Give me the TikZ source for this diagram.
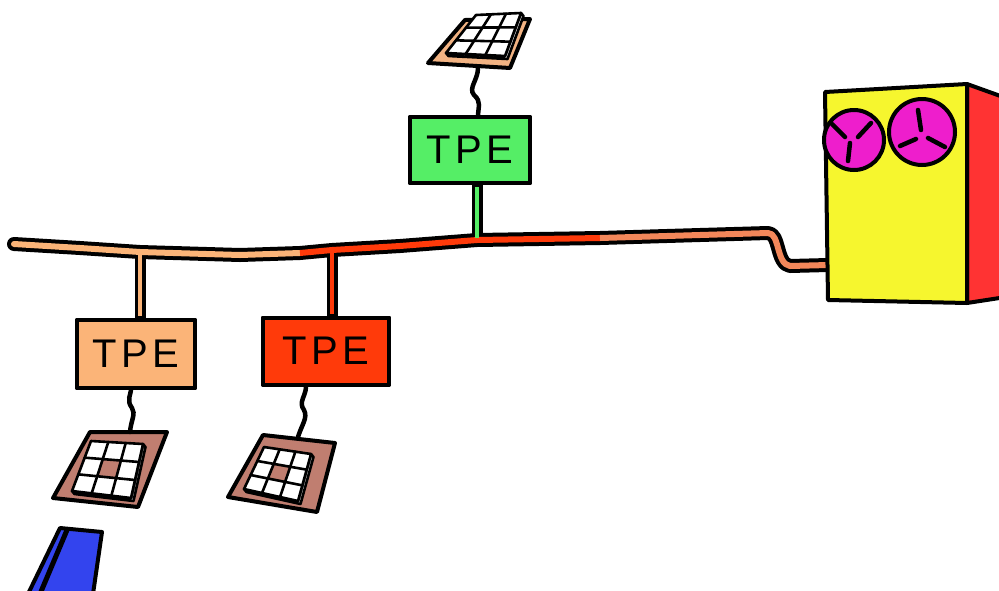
\documentclass[tikz,border=0pt]{standalone}
\usepackage{fontspec}
\setmainfont{Liberation Sans}
\newfontfamily\tpefont[LetterSpace=12]{Liberation Sans}
\usetikzlibrary{calc}
\definecolor{tpegreen}{HTML}{55EE66}
\definecolor{tpeorange}{HTML}{FBB478}
\definecolor{tpered}{HTML}{FF3A0A}
\definecolor{cablesalmon}{HTML}{F3875A}
\definecolor{padpeach}{HTML}{F2B383}
\definecolor{padbrown}{HTML}{C07E70}
\definecolor{cardblue}{HTML}{3344EE}
\definecolor{cabyellow}{HTML}{F6F62E}
\definecolor{cabred}{HTML}{FF3333}
\definecolor{reel}{HTML}{EE1ECC}

% key grid on the four corners gA (bottom-left), gB (top-left), gC (top-right), gD (bottom-right)
\newcommand{\padgrid}[1]{%
  \filldraw[white, keyline] ($(gA)+(2.5,3)$) -- ($(gD)+(2.5,3)$) -- ($(gC)+(2.5,3)$) -- (gC) -- (gD) -- (gA) -- cycle;
  \fill[white] (gA) -- (gB) -- (gC) -- (gD) -- cycle;
  \fill[#1] ($($(gA)!0.333!(gD)$)!0.333!($(gB)!0.333!(gC)$)$) --
            ($($(gA)!0.333!(gD)$)!0.667!($(gB)!0.333!(gC)$)$) --
            ($($(gA)!0.667!(gD)$)!0.667!($(gB)!0.667!(gC)$)$) --
            ($($(gA)!0.667!(gD)$)!0.333!($(gB)!0.667!(gC)$)$) -- cycle;
  \foreach \t in {0.333,0.667} {
    \draw[keyline] ($(gA)!\t!(gD)$) -- ($(gB)!\t!(gC)$);
    \draw[keyline] ($(gA)!\t!(gB)$) -- ($(gD)!\t!(gC)$);
  }
  \draw[keyline] (gA) -- (gB) -- (gC) -- (gD) -- cycle;
}

\begin{document}
\begin{tikzpicture}[x=1pt, y=-1pt,
  ink/.style={line width=4pt, line join=round, line cap=round, draw=black},
  keyline/.style={line width=2.6pt, line join=round, line cap=round, draw=black},
  tpebox/.style={draw=black, line width=4pt, line join=round, minimum width=120pt,
    minimum height=66pt, inner sep=0pt, font=\tpefont\fontsize{40}{44}\selectfont},
  cableout/.style={line width=14pt, draw=black, line join=round, line cap=round},
  cablein/.style={line width=6pt, line join=round},
  stemout/.style={line width=11pt, draw=black, line cap=butt},
  stemin/.style={line width=4.5pt},
  wire/.style={line width=4.5pt, line cap=round},
  spoke/.style={line width=4.5pt, line cap=round}]
\useasboundingbox (0,0) rectangle (999,590);

% ---------- bus cable ----------
\coordinate (b0) at (14,244);
\coordinate (b1) at (80,248);
\coordinate (j1) at (140,252);
\coordinate (b2) at (240,255);
\coordinate (b3) at (300,253);
\coordinate (j2) at (332,250);
\coordinate (b4) at (400,246);
\coordinate (j3) at (477,240);
\coordinate (b5) at (600,238);
\coordinate (b6) at (700,235);
\coordinate (b7) at (768,233);
\coordinate (b8) at (790,266);
\coordinate (b9) at (828,265);

% ---------- terminals ----------
\node[tpebox, fill=tpegreen]  (tpeA) at (470,150) {TPE};
\node[tpebox, fill=tpeorange, minimum width=118pt, minimum height=68pt] (tpeB) at (136,354) {TPE};
\node[tpebox, fill=tpered, minimum width=126pt, minimum height=67pt]   (tpeC) at (326,351) {TPE};

% stems from the bus to the terminals
\draw[stemout] (j1) -- (tpeB.north -| j1);
\draw[stemout] (j2) -- (tpeC.north -| j2);
\draw[stemout] (j3) -- (tpeA.south -| j3);

\draw[cableout] (b0) -- (b1) -- (j1) -- (b2) -- (b3) -- (j2) -- (b4) -- (j3) -- (b5) -- (b6) -- (b7)
  .. controls (780,233) and (776,264) .. (b8) -- (b9);
\draw[cablein, tpeorange, line cap=round] (b0) -- (b1) -- (j1) -- (b2) -- (b3);
\draw[cablein, tpered] (b3) -- (j2) -- (b4) -- (j3) -- (b5);
\draw[cablein, cablesalmon] (b5) -- (b6) -- (b7)
  .. controls (780,233) and (776,264) .. (b8) -- (b9);

\draw[stemin, tpeorange] ($(j1)+(0,2)$) -- ($(tpeB.north -| j1)+(0,-2)$);
\draw[stemin, tpered] ($(j2)+(0,2)$) -- ($(tpeC.north -| j2)+(0,-2)$);
\draw[stemin, tpegreen] ($(j3)+(0,-2)$) -- ($(tpeA.south -| j3)+(0,2)$);

% boxes drawn again above the stems
\node[tpebox, fill=tpegreen]  at (tpeA) {TPE};
\node[tpebox, fill=tpeorange, minimum width=118pt, minimum height=68pt] at (tpeB) {TPE};
\node[tpebox, fill=tpered, minimum width=126pt, minimum height=67pt] at (tpeC) {TPE};

% ---------- keypads ----------
% top keypad
\filldraw[ink, fill=padpeach] (428,63) -- (465,20) -- (530,19) -- (510,68) -- cycle;
\coordinate (gA) at (446,53); \coordinate (gB) at (476,15);
\coordinate (gC) at (521,13); \coordinate (gD) at (505,56);
\padgrid{white}
\coordinate (pA) at (478,68);
\draw[wire] (pA) .. controls (478,80) and (468,88) .. (474,95)
  .. controls (482,102) and (478,108) .. (tpeA.north -| 478,0);

% left keypad
\filldraw[ink, fill=padbrown] (53,498) -- (90,432) -- (167,432) -- (138,507) -- cycle;
\coordinate (gA) at (72,491); \coordinate (gB) at (91,441);
\coordinate (gC) at (143,444); \coordinate (gD) at (131,498);
\padgrid{padbrown}
\coordinate (pB) at (130,432);
\draw[wire] (pB) .. controls (131,420) and (136,414) .. (132,408)
  .. controls (126,400) and (131,394) .. (tpeB.south -| 131,0);

% middle keypad
\filldraw[ink, fill=padbrown] (228,497) -- (263,435) -- (335,443) -- (317,512) -- cycle;
\coordinate (gA) at (244,489); \coordinate (gB) at (264,447);
\coordinate (gC) at (311,454); \coordinate (gD) at (298,501);
\padgrid{padbrown}
\coordinate (pC) at (298,437);
\draw[wire] (pC) .. controls (302,424) and (308,418) .. (304,410)
  .. controls (298,402) and (306,396) .. (tpeC.south -| 306,0);

% ---------- card ----------
\filldraw[ink, fill=cardblue] (60,528) -- (102,532) -- (93,594) -- (28,594) -- cycle;
\draw[line width=5pt] (67,530) -- (40,594);

% ---------- computer cabinet ----------
\filldraw[ink, fill=cabred] (967,84) -- (1006,98) -- (1006,297) -- (967,303) -- cycle;
\filldraw[ink, fill=cabyellow] (825,92) -- (967,84) -- (967,303) -- (828,300) -- cycle;
\filldraw[ink, fill=reel] (854,140) circle[radius=30];
\filldraw[ink, fill=reel] (922,132) circle[radius=33];
% reel spokes
\draw[spoke] (832,124) -- (845,137);
\draw[spoke] (871,123) -- (858,137);
\draw[spoke] (850,143) -- (848,161);
\draw[spoke] (918,110) -- (921,130);
\draw[spoke] (900,146) -- (916,139);
\draw[spoke] (928,138) -- (945,147);
\end{tikzpicture}
\end{document}
